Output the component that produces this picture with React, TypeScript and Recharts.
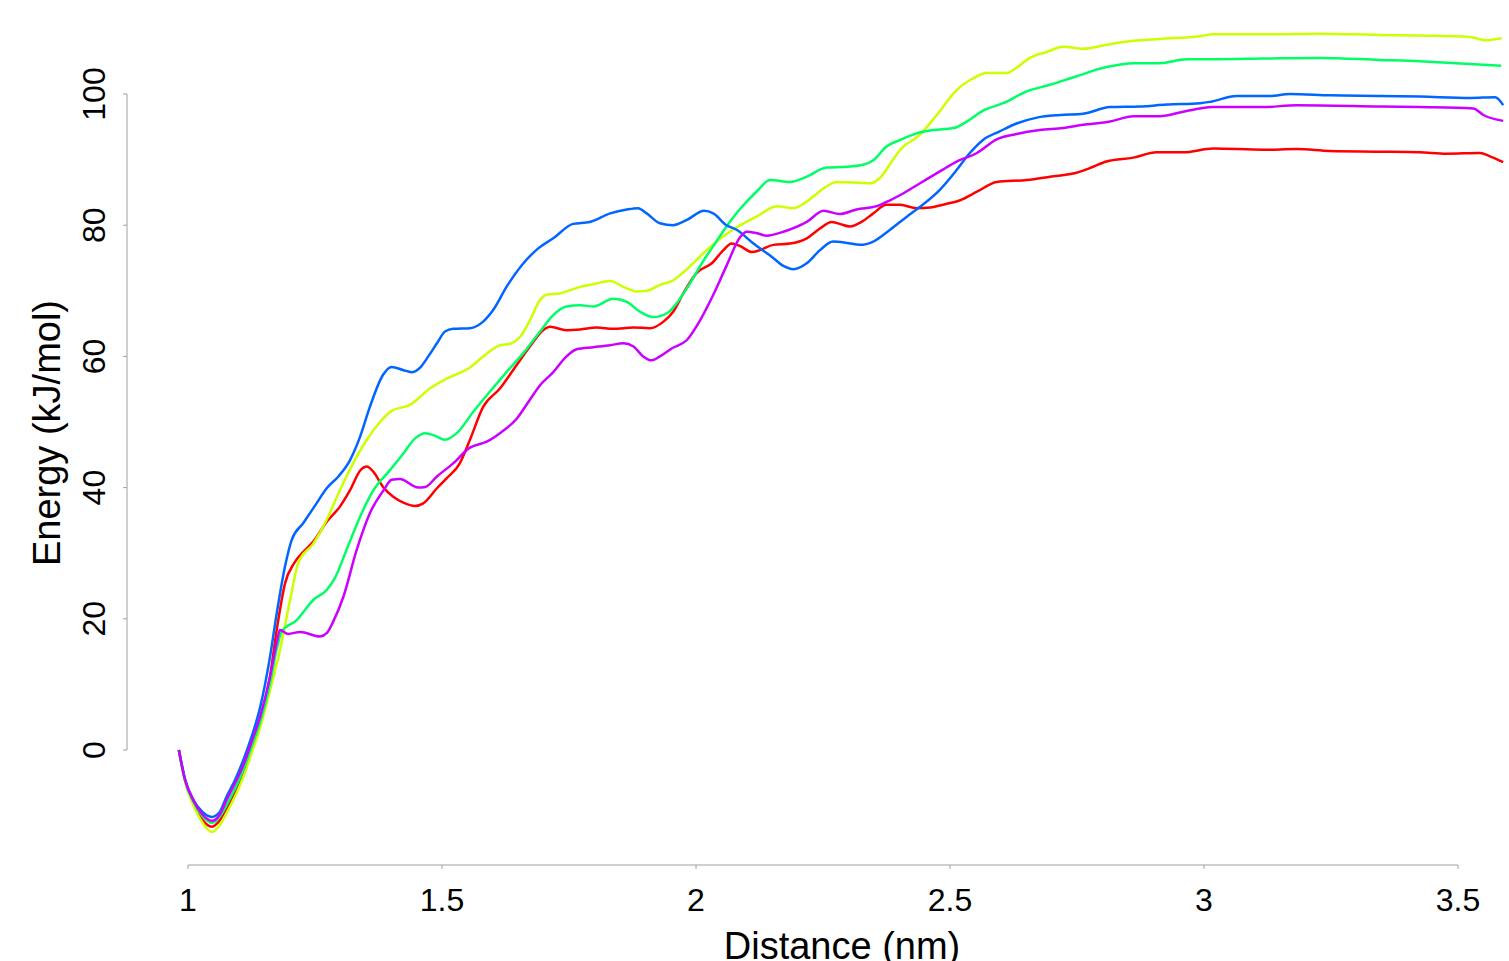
import React from "react";
import { LineChart, Line, XAxis, YAxis, ReferenceLine } from "recharts";

// x positions (nm) and energies (kJ/mol)
const redX = [0.982, 0.994, 1.01, 1.028, 1.047, 1.062, 1.076, 1.093, 1.109, 1.125, 1.142, 1.161, 1.175, 1.191, 1.209, 1.227, 1.247, 1.273, 1.299, 1.319, 1.339, 1.352, 1.365, 1.384, 1.404, 1.424, 1.447, 1.463, 1.49, 1.509, 1.535, 1.555, 1.581, 1.614, 1.647, 1.673, 1.699, 1.713, 1.745, 1.772, 1.805, 1.837, 1.877, 1.909, 1.936, 1.955, 1.975, 2.001, 2.031, 2.054, 2.07, 2.087, 2.11, 2.126, 2.152, 2.185, 2.218, 2.244, 2.267, 2.283, 2.303, 2.326, 2.349, 2.375, 2.402, 2.434, 2.461, 2.49, 2.52, 2.553, 2.592, 2.651, 2.697, 2.749, 2.775, 2.808, 2.861, 2.907, 2.959, 3.018, 3.117, 3.182, 3.248, 3.346, 3.425, 3.478, 3.543, 3.563, 3.589];
const redY = [0, -4.6, -8, -10.6, -11.7, -10.8, -8.9, -6.3, -3.3, 0.3, 4.3, 11, 18.5, 25.4, 28.5, 30.2, 31.8, 34.8, 37.1, 39.6, 42.6, 43.2, 42.4, 40.1, 38.6, 37.7, 37.2, 37.6, 39.9, 41.4, 43.7, 47.3, 52.3, 55.1, 58.7, 61.5, 64, 64.5, 64, 64.1, 64.4, 64.2, 64.4, 64.3, 65.3, 66.8, 69.6, 72.7, 74.2, 76.2, 77.2, 76.8, 75.9, 76.2, 77, 77.2, 78, 79.5, 80.5, 80.2, 79.8, 80.5, 81.8, 83.1, 83.1, 82.6, 82.7, 83.2, 83.8, 85.1, 86.6, 86.9, 87.4, 88, 88.7, 89.7, 90.3, 91.1, 91.1, 91.7, 91.5, 91.6, 91.3, 91.2, 91.1, 90.9, 91, 90.5, 89.6];

const yellowX = [0.982, 0.994, 1.01, 1.028, 1.047, 1.062, 1.076, 1.093, 1.109, 1.125, 1.142, 1.161, 1.181, 1.201, 1.217, 1.247, 1.273, 1.299, 1.325, 1.352, 1.378, 1.401, 1.437, 1.476, 1.509, 1.555, 1.581, 1.611, 1.637, 1.654, 1.673, 1.693, 1.706, 1.732, 1.772, 1.798, 1.831, 1.857, 1.883, 1.903, 1.929, 1.955, 1.985, 2.018, 2.054, 2.087, 2.119, 2.159, 2.192, 2.218, 2.251, 2.277, 2.31, 2.343, 2.362, 2.388, 2.402, 2.441, 2.474, 2.513, 2.546, 2.572, 2.612, 2.631, 2.657, 2.69, 2.723, 2.762, 2.808, 2.861, 2.913, 2.992, 3.018, 3.13, 3.228, 3.346, 3.425, 3.524, 3.553, 3.586];
const yellowY = [0, -4.8, -8.3, -11, -12.5, -11.5, -9.6, -7, -4.1, -0.5, 3.4, 9, 15.2, 22.9, 28.5, 31.5, 35.1, 39.6, 43.7, 47.3, 50, 51.7, 52.6, 55.1, 56.6, 58.3, 60, 61.6, 62, 63, 65.5, 68.6, 69.4, 69.6, 70.6, 71, 71.5, 70.6, 69.9, 70, 70.9, 71.6, 73.5, 76, 78.3, 80, 81.3, 82.9, 82.6, 83.6, 85.6, 86.6, 86.5, 86.4, 87.2, 90, 91.5, 93.8, 96.8, 100.6, 102.4, 103.2, 103.2, 104, 105.5, 106.4, 107.2, 106.9, 107.5, 108.1, 108.4, 108.8, 109.1, 109.1, 109.2, 109, 108.9, 108.7, 108.2, 108.5];

const greenX = [0.982, 0.994, 1.01, 1.028, 1.047, 1.062, 1.076, 1.093, 1.109, 1.125, 1.142, 1.161, 1.175, 1.184, 1.214, 1.247, 1.273, 1.289, 1.312, 1.339, 1.365, 1.398, 1.424, 1.447, 1.467, 1.486, 1.506, 1.529, 1.562, 1.594, 1.627, 1.66, 1.693, 1.719, 1.745, 1.772, 1.798, 1.837, 1.864, 1.89, 1.916, 1.945, 1.962, 1.988, 2.014, 2.04, 2.06, 2.087, 2.119, 2.146, 2.185, 2.218, 2.257, 2.297, 2.329, 2.349, 2.375, 2.402, 2.434, 2.467, 2.507, 2.533, 2.566, 2.605, 2.651, 2.697, 2.749, 2.808, 2.861, 2.913, 2.966, 3.018, 3.117, 3.228, 3.346, 3.425, 3.47, 3.585];
const greenY = [0, -4.6, -7.8, -10, -11.1, -10.2, -8.4, -5.8, -3, 0.5, 4.3, 10, 15.5, 18, 19.8, 22.9, 24.4, 26.2, 30.5, 35.6, 39.6, 42.7, 45.2, 47.5, 48.3, 47.9, 47.3, 48.3, 51.6, 54.6, 57.6, 60.5, 63.8, 66.3, 67.6, 67.8, 67.6, 68.8, 68.3, 66.8, 66, 66.7, 68.1, 71.1, 74.5, 77.5, 79.8, 82.5, 85.1, 86.9, 86.6, 87.4, 88.8, 88.9, 89.2, 89.9, 92, 93, 94, 94.5, 94.8, 95.8, 97.5, 98.6, 100.4, 101.4, 102.7, 104.1, 104.7, 104.7, 105.3, 105.3, 105.4, 105.5, 105.2, 105, 104.8, 104.3];

const blueX = [0.982, 0.994, 1.01, 1.028, 1.047, 1.062, 1.076, 1.093, 1.109, 1.125, 1.142, 1.161, 1.175, 1.191, 1.204, 1.227, 1.253, 1.273, 1.296, 1.319, 1.339, 1.358, 1.384, 1.401, 1.424, 1.44, 1.457, 1.473, 1.49, 1.506, 1.522, 1.555, 1.581, 1.601, 1.627, 1.657, 1.69, 1.719, 1.758, 1.791, 1.831, 1.864, 1.886, 1.903, 1.929, 1.955, 1.982, 2.016, 2.034, 2.06, 2.08, 2.113, 2.149, 2.172, 2.192, 2.218, 2.244, 2.27, 2.297, 2.323, 2.349, 2.382, 2.415, 2.441, 2.48, 2.513, 2.539, 2.565, 2.598, 2.631, 2.671, 2.717, 2.762, 2.815, 2.874, 2.927, 2.992, 3.012, 3.064, 3.13, 3.169, 3.248, 3.346, 3.425, 3.524, 3.573, 3.589];
const blueY = [0, -4.4, -7.5, -9.4, -10.2, -9.5, -7.1, -4.5, -1.5, 2, 6.5, 14, 21, 28, 32, 34.6, 37.6, 39.9, 41.7, 44.2, 47.8, 52.3, 57.2, 58.4, 57.9, 57.6, 58.3, 60, 62, 63.8, 64.2, 64.3, 65.3, 67.1, 70.6, 73.9, 76.5, 78, 80.2, 80.5, 81.8, 82.4, 82.6, 81.8, 80.3, 80, 80.8, 82.2, 81.8, 80, 79.3, 77.2, 75.2, 73.8, 73.3, 74.2, 76.2, 77.5, 77.3, 77, 77.5, 79.3, 81.3, 82.8, 85.4, 88.4, 91, 93, 94.3, 95.5, 96.4, 96.8, 97, 98, 98.1, 98.4, 98.6, 98.8, 99.7, 99.7, 100, 99.8, 99.7, 99.6, 99.4, 99.5, 98.3];

const magentaX = [0.982, 0.994, 1.01, 1.028, 1.047, 1.062, 1.076, 1.093, 1.109, 1.125, 1.142, 1.161, 1.175, 1.181, 1.197, 1.221, 1.26, 1.273, 1.286, 1.306, 1.332, 1.358, 1.385, 1.401, 1.417, 1.453, 1.467, 1.49, 1.522, 1.555, 1.588, 1.614, 1.647, 1.673, 1.693, 1.719, 1.745, 1.765, 1.798, 1.831, 1.857, 1.877, 1.896, 1.913, 1.929, 1.952, 1.982, 2.008, 2.034, 2.06, 2.087, 2.1, 2.119, 2.139, 2.172, 2.218, 2.251, 2.283, 2.316, 2.356, 2.382, 2.402, 2.441, 2.48, 2.513, 2.553, 2.592, 2.631, 2.677, 2.723, 2.762, 2.815, 2.861, 2.913, 2.959, 2.992, 3.018, 3.117, 3.182, 3.346, 3.425, 3.53, 3.55, 3.589];
const magentaY = [0, -4.5, -7.6, -9.8, -10.8, -9.9, -7.6, -5, -2.3, 1.2, 5.1, 11, 16.5, 18.3, 17.7, 18, 17.3, 17.8, 19.6, 23.4, 30.5, 36.1, 39.6, 41.2, 41.3, 40, 40.1, 41.7, 43.7, 46.1, 47, 48.3, 50.5, 53.4, 55.6, 57.6, 60, 61.1, 61.4, 61.7, 62, 61.5, 60, 59.4, 60, 61.2, 62.5, 65.5, 69.4, 73.8, 78.2, 79, 78.8, 78.4, 79, 80.5, 82.2, 81.7, 82.4, 82.9, 83.8, 84.6, 86.4, 88.2, 89.7, 91, 93.1, 93.9, 94.5, 94.8, 95.3, 95.8, 96.6, 96.6, 97.3, 97.8, 98, 98, 98.3, 98.1, 98, 97.8, 96.8, 95.9];

const xTicks = [1, 1.5, 2, 2.5, 3, 3.5];
const yTicks = [0, 20, 40, 60, 80, 100];

const zip = (xs: number[], ys: number[]) => xs.map((x, i) => ({ x, y: ys[i] }));

const series = [
  { name: "red", color: "#FF0000", data: zip(redX, redY) },
  { name: "yellow", color: "#CCFF00", data: zip(yellowX, yellowY) },
  { name: "green", color: "#00FF66", data: zip(greenX, greenY) },
  { name: "blue", color: "#0066FF", data: zip(blueX, blueY) },
  { name: "magenta", color: "#CC00FF", data: zip(magentaX, magentaY) },
];

const FONT = '"Liberation Sans", Arial, Helvetica, sans-serif';
const AXIS_COLOR = "#a0a0a0";
const X_MIN = 0.8799;
const X_MAX = 3.6004;
const Y_MIN = -17.53;
const Y_MAX = 113.87;
const PLOT_BOTTOM = 865;
const PLOT_LEFT = 127;

function XTick(props: any) {
  const { x, payload } = props;
  return (
    <g>
      <line x1={x} x2={x} y1={PLOT_BOTTOM} y2={PLOT_BOTTOM + 4} stroke={AXIS_COLOR} />
      <text x={x} y={911} textAnchor="middle" fontSize={32} fontFamily={FONT} fill="#000">
        {payload.value}
      </text>
    </g>
  );
}

function YTick(props: any) {
  const { y, payload } = props;
  return (
    <g>
      <line x1={PLOT_LEFT - 4} x2={PLOT_LEFT} y1={y} y2={y} stroke={AXIS_COLOR} />
      <text
        x={105}
        y={y}
        transform={`rotate(-90, 105, ${y})`}
        textAnchor="middle"
        fontSize={32}
        fontFamily={FONT}
        fill="#000"
      >
        {payload.value}
      </text>
    </g>
  );
}

function XTitle() {
  return (
    <text x={842} y={959} textAnchor="middle" fontSize={38} fontFamily={FONT} fill="#000">
      Distance (nm)
    </text>
  );
}

function YTitle() {
  return (
    <text
      x={60}
      y={433}
      transform="rotate(-90, 60, 433)"
      textAnchor="middle"
      fontSize={38}
      fontFamily={FONT}
      fill="#000"
    >
      Energy (kJ/mol)
    </text>
  );
}

export default function App() {
  return (
    <div style={{ position: "absolute", left: 0, top: 0, width: 1509, height: 961, background: "#fff" }}>
      <LineChart width={1509} height={961} margin={{ top: 3, right: 0, bottom: 0, left: 0 }}>
        <XAxis
          dataKey="x"
          type="number"
          domain={[X_MIN, X_MAX]}
          ticks={xTicks}
          allowDataOverflow
          axisLine={false}
          tickLine={false}
          tick={<XTick />}
          height={96}
          label={<XTitle />}
        />
        <YAxis
          dataKey="y"
          type="number"
          domain={[Y_MIN, Y_MAX]}
          ticks={yTicks}
          allowDataOverflow
          axisLine={false}
          tickLine={false}
          tick={<YTick />}
          width={127}
          label={<YTitle />}
        />
        <ReferenceLine
          segment={[{ x: 1, y: Y_MIN }, { x: 3.5, y: Y_MIN }]}
          stroke={AXIS_COLOR}
          ifOverflow="visible"
        />
        <ReferenceLine
          segment={[{ x: X_MIN, y: 0 }, { x: X_MIN, y: 100 }]}
          stroke={AXIS_COLOR}
          ifOverflow="visible"
        />
        {series.map((s) => (
          <Line
            key={s.name}
            data={s.data}
            dataKey="y"
            type="monotone"
            stroke={s.color}
            strokeWidth={2.5}
            dot={false}
            activeDot={false}
            isAnimationActive={false}
          />
        ))}
      </LineChart>
    </div>
  );
}
